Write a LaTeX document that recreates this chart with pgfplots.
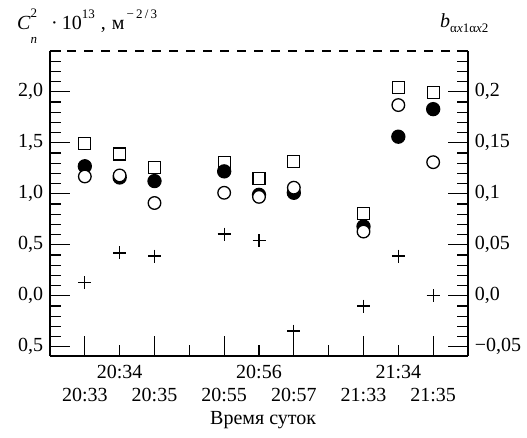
\documentclass[border=0pt]{standalone}
\usepackage{fontspec}
\setmainfont{Liberation Serif}
\usepackage{pgfplots}
\pgfplotsset{compat=1.18}

\newcommand{\sm}{\fontsize{13}{13}\selectfont}

\begin{document}
\fontsize{20}{23}\selectfont
\begin{tikzpicture}
\pgfplotsset{
  every axis/.append style={
    scale only axis, width=418pt, height=305pt,
    xmin=0, xmax=12,
    axis line style={line width=1.3pt,-},
    every tick/.style={black,line width=1.2pt},
    major tick length=20pt, minor tick length=11pt,
    tick align=inside,
    clip=false,
    font=\fontsize{20}{23}\selectfont,
  },
}
\useasboundingbox (-50pt,-81pt) rectangle (477pt,356pt);

% left axis: C_n^2
\begin{axis}[
  name=main,
  axis x line*=bottom, axis y line*=left,
  ymin=-0.59, ymax=2.4,
  xtick={1,3,5,7,9,11},
  xticklabels={{\strut\\\strut 20:33},{\strut\\\strut 20:35},{\strut\\\strut 20:55},
               {\strut\\\strut 20:57},{\strut\\\strut 21:33},{\strut\\\strut 21:35}},
  xticklabel style={align=center},
  minor xtick={2,4,6,8,10},
  extra x ticks={2,6,10},
  extra x tick labels={{\strut 20:34\\\strut},{\strut 20:56\\\strut},{\strut 21:34\\\strut}},
  extra x tick style={major tick length=0pt},
  ytick={-0.5,0,0.5,1,1.5,2},
  yticklabels={{0,5},{0,0},{0,5},{1,0},{1,5},{2,0}},
  minor ytick={-0.5,-0.4,...,2.41},
  xlabel={Время суток},
  xlabel style={at={(rel axis cs:0.51,0)},anchor=base,yshift=-68pt},
]
\addplot[dash pattern=on 9pt off 8pt, line width=1.3pt] coordinates {(0,2.4) (12,2.4)};
% squares
\addplot[only marks, mark=square*, mark size=6pt, line width=1.3pt, mark options={fill=white}]
  coordinates {(1,1.49) (2,1.39) (3,1.26) (5,1.31) (6,1.15) (7,1.32) (9,0.81) (10,2.04) (11,1.99)};
% filled circles
\addplot[only marks, mark=*, mark size=6.5pt, line width=1.3pt, black]
  coordinates {(1,1.27) (2,1.16) (3,1.125) (5,1.22) (6,0.99) (7,1.01) (9,0.68) (10,1.56) (11,1.83)};
% open circles
\addplot[only marks, mark=*, mark size=6.3pt, line width=1.3pt, mark options={draw=black,fill=white}]
  coordinates {(1,1.17) (2,1.18) (3,0.91) (5,1.01) (6,0.97) (7,1.06) (9,0.63) (10,1.87) (11,1.31)};
\end{axis}

% right axis: b
\begin{axis}[
  axis x line=none, axis y line*=right,
  ymin=-0.059, ymax=0.24,
  ytick={-0.05,0,0.05,0.1,0.15,0.2},
  yticklabels={{−0,05},{0,0},{0,05},{0,1},{0,15},{0,2}},
  minor ytick={-0.05,-0.04,...,0.241},
]
\addplot[only marks, mark=+, mark size=6.5pt, line width=1.3pt, black]
  coordinates {(1,0.013) (2,0.042) (3,0.039) (5,0.0605) (6,0.054) (7,-0.0345) (9,-0.010) (10,0.039) (11,0.0)};
\end{axis}

\node[anchor=base west, inner sep=0pt] at ([xshift=-33pt,yshift=21pt]main.north west)
  {\textit{C}\rlap{\raisebox{0.6em}{\sm 2}}\raisebox{-0.7em}{\sm\textit{n}}\hspace{0.7em}·\hspace{0.2em}10\raisebox{0.55em}{\sm 13}\hspace{0.3em},\hspace{0.3em}м\raisebox{0.55em}{\sm\,−\,2\,/\,3}};
\node[anchor=base west, inner sep=0pt] at ([xshift=-28pt,yshift=23pt]main.north east)
  {\textit{b}\raisebox{-0.25em}{\sm α\textit{x}1α\textit{x}2}};
\end{tikzpicture}
\end{document}
